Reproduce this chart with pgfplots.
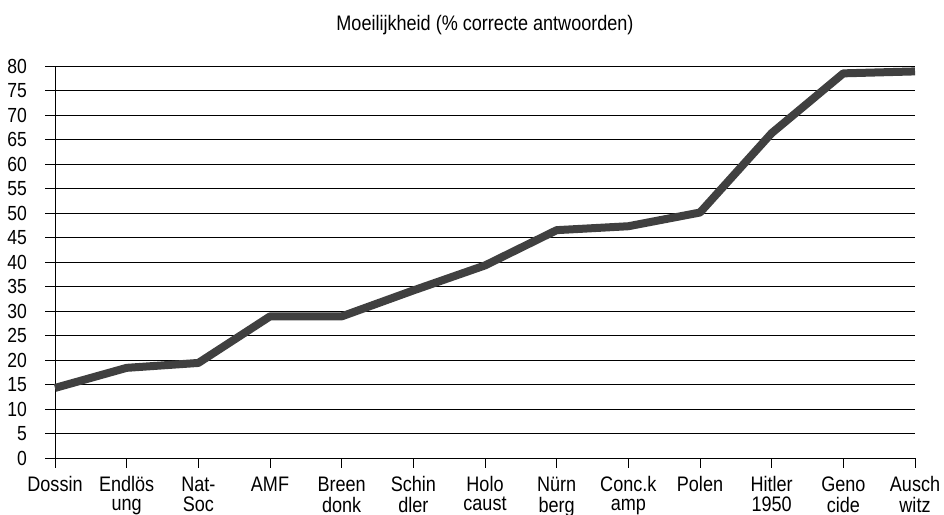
\documentclass[border=0pt]{standalone}
\usepackage{fontspec}
\setmainfont{Liberation Sans}[FakeStretch=0.86]
\usepackage{pgfplots}
\pgfplotsset{compat=1.18}
\newcommand\tl[2]{\begin{tabular}[t]{@{}c@{}}#1\\#2\end{tabular}}
\begin{document}
\begin{tikzpicture}
\begin{axis}[
  scale only axis,
  width=430bp, height=196bp,
  xmin=0, xmax=12, ymin=0, ymax=80,
  axis x line*=bottom, axis y line*=left,
  axis line style={black, line width=0.5bp},
  xtick={0,...,12},
  xticklabels={\tl{Dossin}{},\tl{Endlös}{ung},\tl{Nat-}{Soc},\tl{AMF}{},\tl{Breen}{donk},\tl{Schin}{dler},\tl{Holo}{caust},\tl{Nürn}{berg},\tl{Conc.k}{amp},\tl{Polen}{},\tl{Hitler}{1950},\tl{Geno}{cide},\tl{Ausch}{witz}},
  ytick={0,5,...,80},
  tick align=outside,
  xtick pos=bottom, ytick pos=left,
  major tick length=4.8bp,
  tick style={black, line width=0.5bp},
  ymajorgrids,
  major grid style={black, line width=0.5bp},
  /pgf/number format/assume math mode=true,
  xticklabel style={anchor=base, inner sep=0pt, yshift=-11.8bp, font=\fontsize{10.5bp}{9.6bp}\selectfont},
  yticklabel style={anchor=east, inner sep=0pt, xshift=-9bp, font=\fontsize{10.2bp}{12bp}\selectfont},
  title={Moeilijkheid (\% correcte antwoorden)},
  title style={at={(0.5,1)}, anchor=base, yshift=12bp, inner sep=0pt, font=\fontsize{10.5bp}{12bp}\selectfont},
  clip=false,
]
\addplot[color=black!75, line width=4bp, line join=round, line cap=butt] coordinates {
(0,14.3) (1,18.4) (2,19.4) (3,28.9) (4,28.9) (5,34.2) (6,39.3) (7,46.5) (8,47.3) (9,50.1) (10,66.3) (11,78.5) (12,78.9)
};
\end{axis}
\pgfresetboundingbox
\path[use as bounding box] ([shift={(-27.5bp,-28.5bp)}]current axis.south west) rectangle +(472bp,257.5bp);
\end{tikzpicture}
\end{document}
